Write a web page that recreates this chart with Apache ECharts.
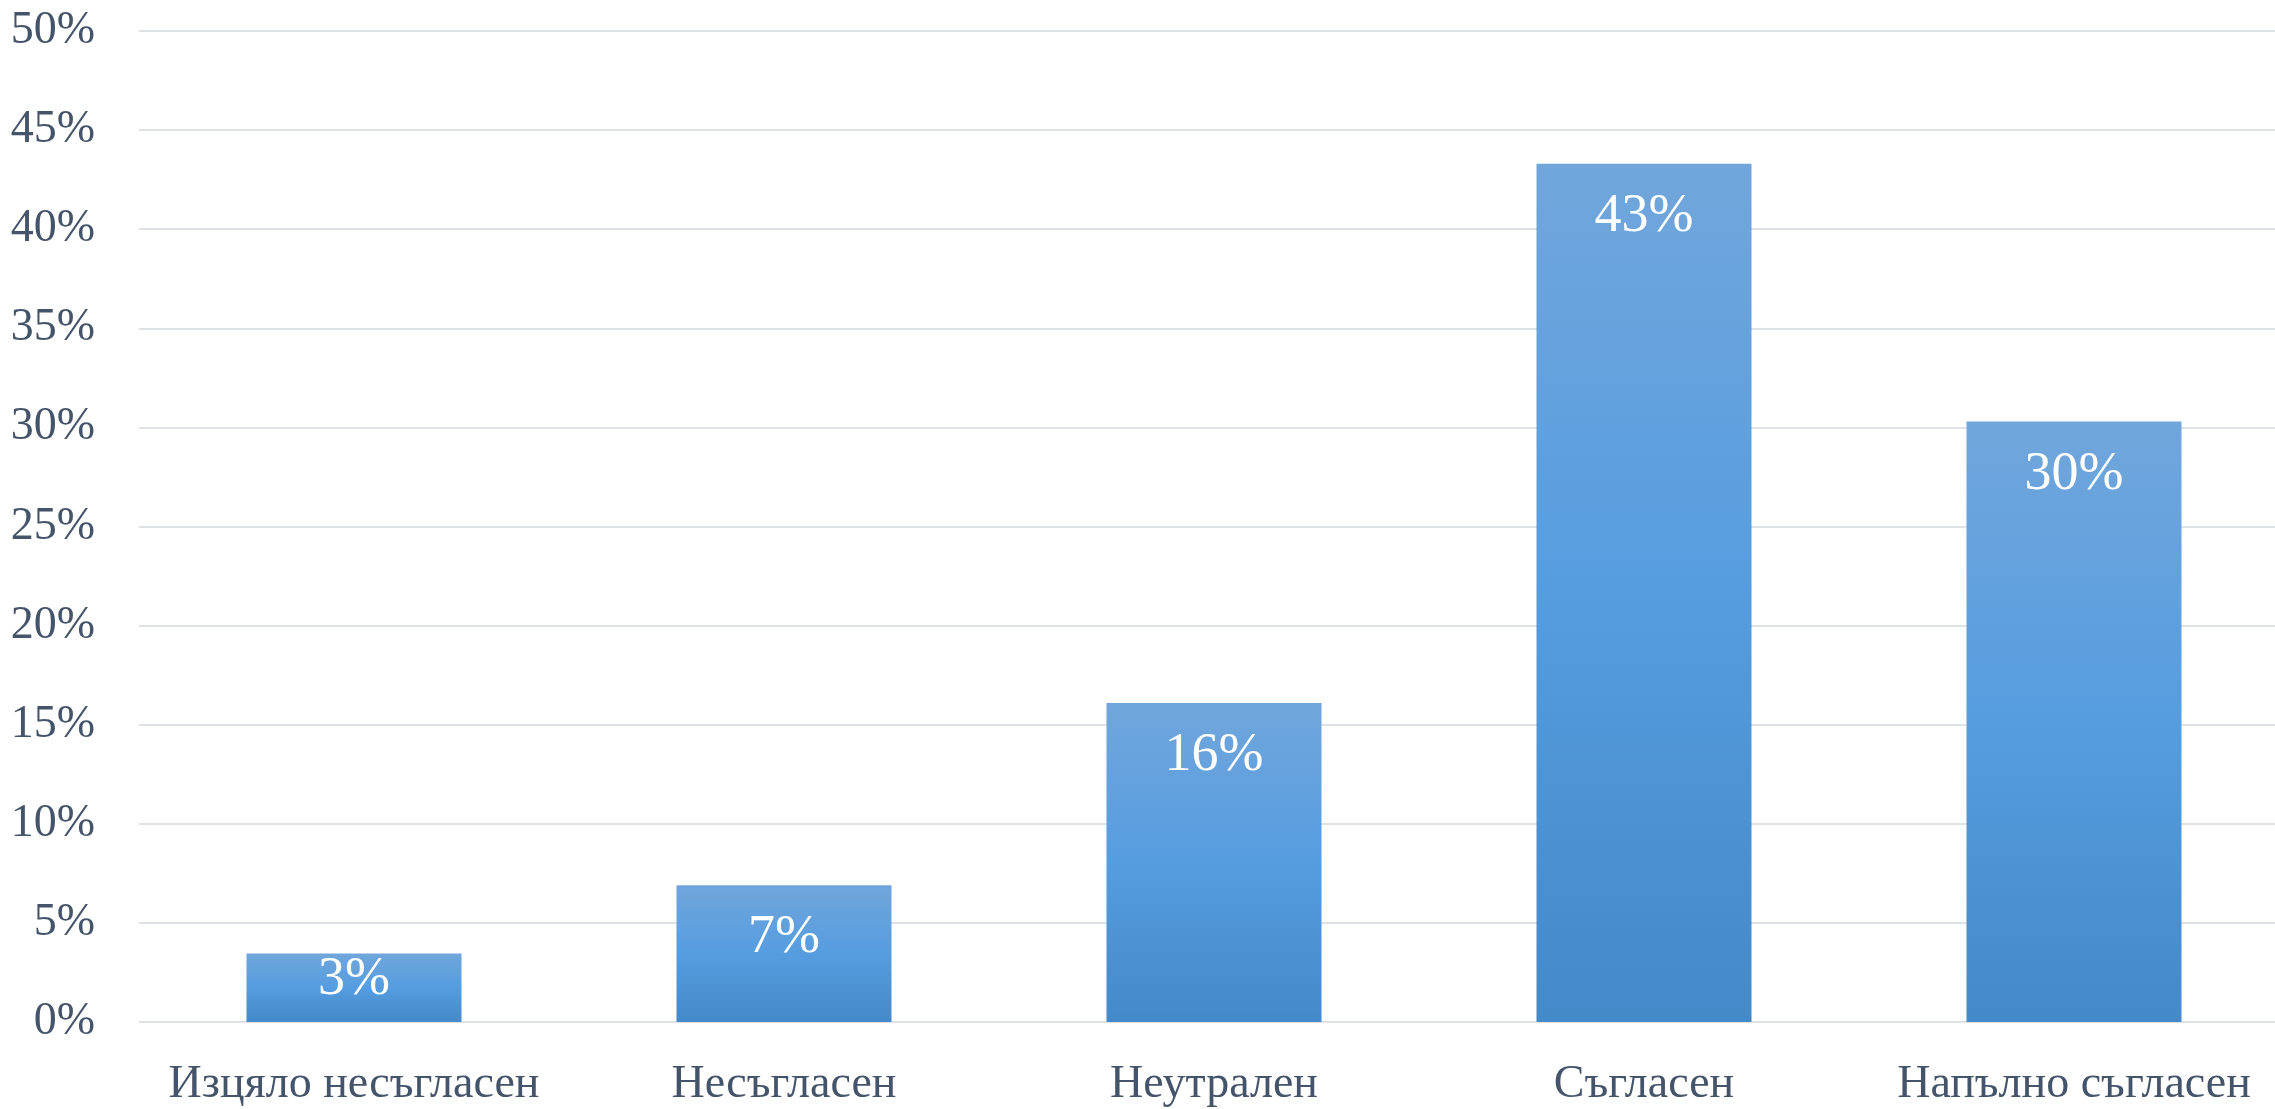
<!DOCTYPE html>
<html>
<head>
<meta charset="utf-8">
<script src="https://cdn.jsdelivr.net/npm/echarts@6/dist/echarts.min.js"></script>
<style>
  html, body { margin: 0; padding: 0; background: #fff; }
  #chart { width: 2275px; height: 1109px; }
</style>
</head>
<body>
<div id="chart"></div>
<script>
const categories = ['Изцяло несъгласен', 'Несъгласен', 'Неутрален', 'Съгласен', 'Напълно съгласен']
const shares = [3.45, 6.9, 16.1, 43.3, 30.3]
const yTicks = [0, 5, 10, 15, 20, 25, 30, 35, 40, 45, 50]

const textColor = '#44546a'
const serif = '"Liberation Serif", "DejaVu Serif", serif'

const barColor = new echarts.graphic.LinearGradient(0, 0, 0, 1, [
  { offset: 0, color: '#71a6db' },
  { offset: 0.5, color: '#559de0' },
  { offset: 1, color: '#4489c8' }
])

const chart = echarts.init(document.getElementById('chart'))
chart.setOption({
  animation: false,
  grid: {
    left: 139,
    top: 31,
    bottom: 87,
    width: 2150,
    outerBoundsMode: 'none'
  },
  xAxis: {
    type: 'category',
    data: categories,
    axisLine: { show: false },
    axisTick: { show: false },
    axisLabel: {
      color: textColor,
      fontFamily: serif,
      fontSize: 46,
      margin: 40,
      interval: 0
    }
  },
  yAxis: {
    type: 'value',
    min: yTicks[0],
    max: yTicks[yTicks.length - 1],
    interval: 5,
    axisLine: { show: false },
    axisTick: { show: false },
    axisLabel: {
      color: textColor,
      fontFamily: serif,
      fontSize: 46,
      margin: 44,
      formatter: v => v + '%'
    },
    splitLine: {
      lineStyle: { color: '#dfe3e8', width: 2 }
    }
  },
  series: [{
    type: 'bar',
    barWidth: '50%',
    data: shares.map((v, i) => i === 0
      ? { value: v, label: { position: 'inside', offset: [0, -8] } }
      : v),
    itemStyle: { color: barColor },
    label: {
      show: true,
      position: 'insideTop',
      distance: 26,
      color: '#ffffff',
      fontFamily: serif,
      fontSize: 54,
      formatter: p => Math.round(p.value) + '%'
    }
  }]
})
</script>
</body>
</html>
